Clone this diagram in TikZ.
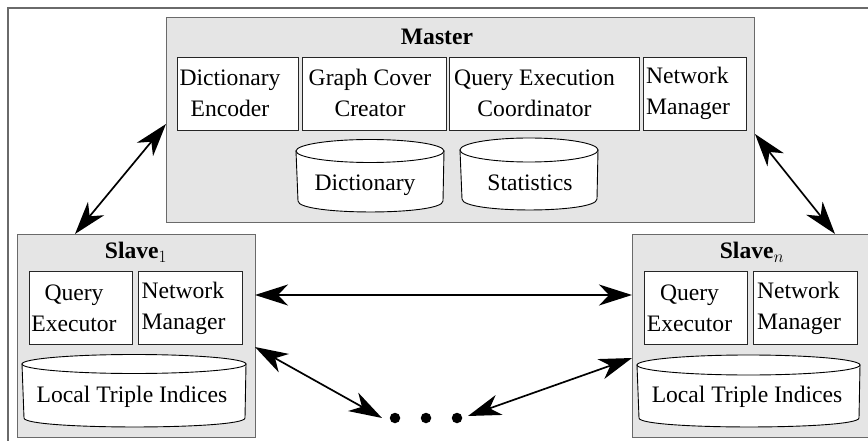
\documentclass[tikz,border=0pt]{standalone}
\usepackage{fontspec}
\setmainfont{Liberation Serif}
\usetikzlibrary{arrows.meta}
\definecolor{panel}{HTML}{E5E5E5}
\definecolor{edge}{HTML}{6A6A6A}

% storage drum: #1 left x, #2 right x, #3 centre y of top rim, #4 rim radius,
% #5 y where the sides end, #6 depth of the bottom curve
\newcommand{\storagedrum}[6]{%
  \filldraw[fill=white, draw=black, line width=0.9pt]
    (#1,#3) -- (#1+2,#5)
    .. controls (#1+2,#5+1.33*#6) and (#2-1,#5+1.33*#6) .. (#2-1,#5)
    -- (#2,#3) -- cycle;
  \filldraw[fill=white, draw=black, line width=0.9pt]
    ({(#1+#2)/2},#3) ellipse [x radius={(#2-#1)/2*1pt}, y radius=#4pt];
}

\begin{document}
\begin{tikzpicture}[x=1pt, y=-1pt,
  every node/.style={font=\fontsize{23.6}{31}\selectfont},
  unit/.style={draw=edge, line width=1.3pt, fill=panel, inner sep=0pt,
               anchor=north west, minimum height=#1},
  part/.style={draw=black!85, line width=0.9pt, fill=white, inner sep=0pt,
               anchor=north west, minimum height=73pt},
  lbl/.style={align=center, inner sep=0pt},
  lbll/.style={align=left, inner sep=0pt},
  dot/.style={circle, fill=black, inner sep=0pt, minimum size=10.5pt},
  link/.style={line width=1.7pt,
    {Stealth[length=33pt, width=21pt, inset=10pt]}-{Stealth[length=33pt, width=21pt, inset=10pt]}}
]
\useasboundingbox (0,0) rectangle (868,441);

% surrounding frame
\draw[edge, line width=1.4pt] (8,470) -- (8,8) -- (890,8);

% master
\node[unit=205pt, minimum width=588pt] (master) at (166,17) {};
\node[font=\fontsize{23.6}{31}\selectfont\bfseries, inner sep=0pt] (mtitle) at (437,37) {Master};
\node[part, minimum width=121pt] (de)  at (177,57) {};
\node[part, minimum width=144pt] (gcc) at (302,57) {};
\node[part, minimum width=190pt] (qec) at (449,57) {};
\node[part, minimum width=103pt] (nmm) at (643,57) {};
\node[lbl]  (tde)  at (230,93)   {Dictionary\\Encoder};
\node[lbl]  (tgcc) at (370,93)   {Graph Cover\\Creator};
\node[lbl]  (tqec) at (534.5,93) {Query Execution\\Coordinator};
\node[lbll] (tnmm) at (688,93)   {Network\\Manager};
\storagedrum{296}{444}{151}{11.5}{201}{11}
\storagedrum{460}{598}{150}{12}{199}{11}
\node[inner sep=0pt] (tdict)  at (365,185) {Dictionary};
\node[inner sep=0pt] (tstats) at (530,183) {Statistics};

% slave 1
\node[unit=203pt, minimum width=238pt] (slaveA) at (17,234) {};
\node[inner sep=0pt] (atitle) at (136,252) {\textbf{Slave}$_1$};
\node[part, minimum width=103pt] (qeA) at (29,271) {};
\node[part, minimum width=104pt] (nmA) at (138,271) {};
\node[lbl]  (tqeA) at (74,308)    {Query\\Executor};
\node[lbll] (tnmA) at (183.5,308) {Network\\Manager};
\storagedrum{22}{246}{364}{9.5}{418}{9}
\node[inner sep=0pt] (tlocA) at (132,397) {Local Triple Indices};

% slave n
\node[unit=203pt, minimum width=240pt] (slaveN) at (632,234) {};
\node[inner sep=0pt] (ntitle) at (752,252) {\textbf{Slave}$_n$};
\node[part, minimum width=103pt] (qeN) at (644,271) {};
\node[part, minimum width=104pt] (nmN) at (753,271) {};
\node[lbl]  (tqeN) at (689.5,308) {Query\\Executor};
\node[lbll] (tnmN) at (799,308)   {Network\\Manager};
\storagedrum{637}{860}{365}{10}{418}{9}
\node[inner sep=0pt] (tlocN) at (747,397) {Local Triple Indices};

% further slaves
\node[dot] (dotA) at (395,418) {};
\node[dot] (dotB) at (426,418) {};
\node[dot] (dotC) at (457,418) {};

% link end points on the unit borders
\coordinate (mA) at (166,124);
\coordinate (sA) at (75,234);
\coordinate (mN) at (755,134);
\coordinate (sN) at (835,234);
\coordinate (hA) at (255,295);
\coordinate (hN) at (632,295);
\coordinate (lA) at (255,347);
\coordinate (lN) at (632,358);
\coordinate (eA) at ([xshift=-13pt]dotA.center);
\coordinate (eC) at ([xshift=11pt, yshift=2pt]dotC.center);

% links
\draw[link] (mA) -- (sA);
\draw[link] (mN) -- (sN);
\draw[link] (hA) -- (hN);
\draw[link] (lA) -- (eA);
\draw[link] (lN) -- (eC);
\end{tikzpicture}
\end{document}
